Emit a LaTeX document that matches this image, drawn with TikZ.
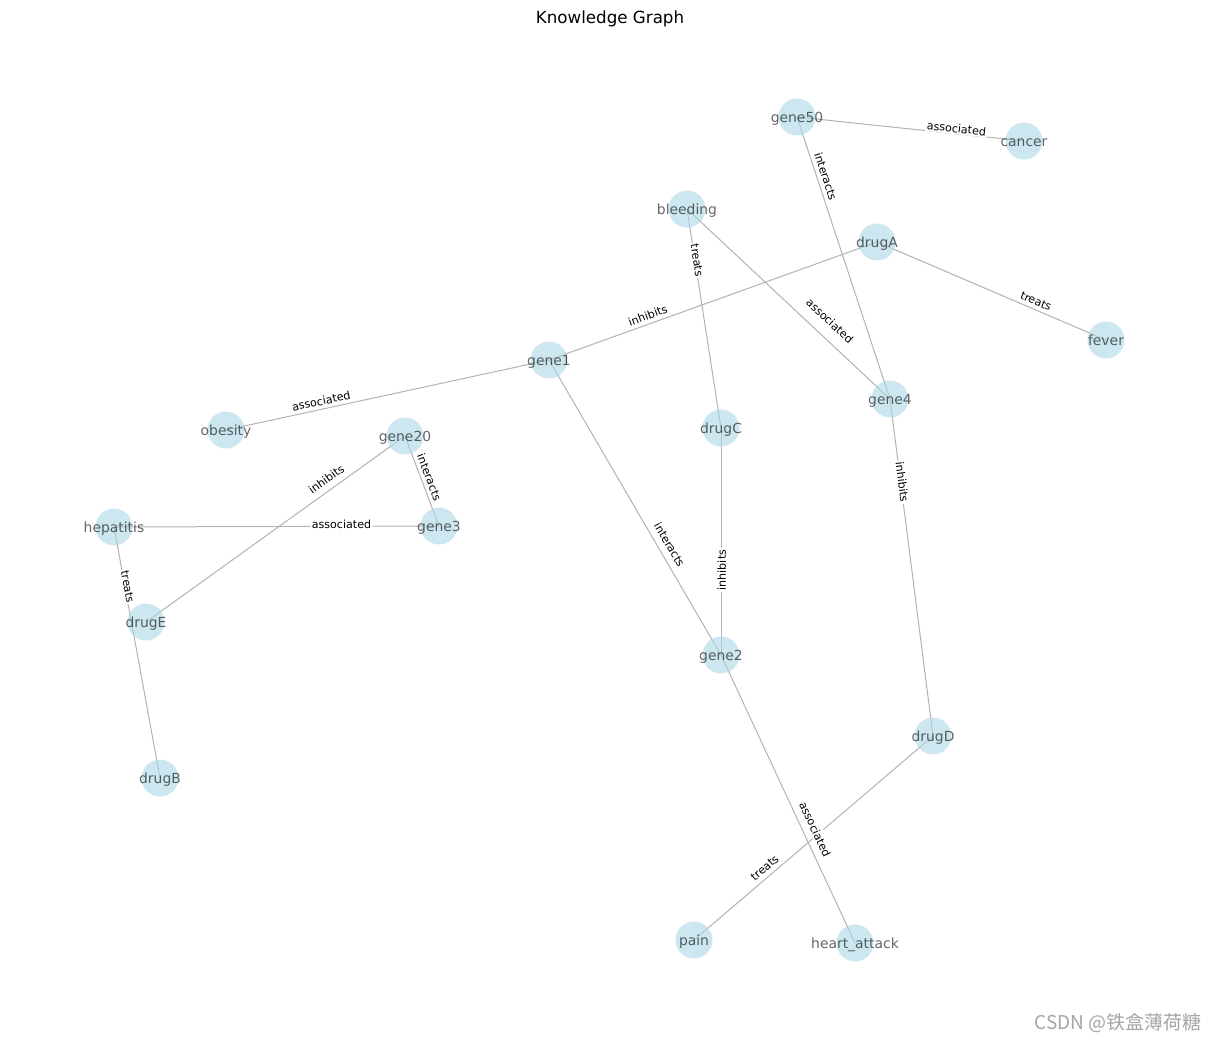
\documentclass[tikz,border=0pt]{standalone}
\usepackage{fontspec}
\setmainfont{DejaVu Sans}
\newfontfamily\cjkfont{Noto Sans CJK SC}
\usetikzlibrary{backgrounds}
\definecolor{nd}{HTML}{ADD8E6}
\definecolor{eg}{HTML}{B3B3B3}
\definecolor{wm}{HTML}{A6A6A6}
\newcommand{\px}[1]{\fontsize{#1}{#1}\selectfont}
\tikzset{
  ent/.style={circle,fill=nd,fill opacity=0.6,minimum size=37pt,inner sep=0pt,
    label={[entname]center:#1}},
  entname/.style={inner sep=0pt,text opacity=0.6,font=\px{13.9},text height=11pt,text depth=0pt},
  rel/.style={draw=eg,line width=1pt},
  rlbl/.style={fill=white,inner sep=1.5pt,sloped,font=\px{11.1},text height=9.8pt,text depth=0pt},
}

\begin{document}
\begin{tikzpicture}[x=1pt,y=-1pt]
\useasboundingbox (0,0) rectangle (1220,1040);
\node[font=\px{16.7},text height=12.6pt,text depth=0pt] (title) at (610,17) {Knowledge Graph};
% entities
\node[ent=gene50] (gene50) at (797,117) {};
\node[ent=cancer] (cancer) at (1024,141) {};
\node[ent=bleeding] (bleeding) at (687,209) {};
\node[ent=drugA] (drugA) at (877,242) {};
\node[ent=fever] (fever) at (1106,340) {};
\node[ent=gene1] (gene1) at (549,360) {};
\node[ent=gene4] (gene4) at (890,399) {};
\node[ent=obesity] (obesity) at (226,430) {};
\node[ent=gene20] (gene20) at (405,436) {};
\node[ent=drugC] (drugC) at (721,428) {};
\node[ent=hepatitis] (hepatitis) at (114,527) {};
\node[ent=gene3] (gene3) at (439,526) {};
\node[ent=drugE] (drugE) at (146,622) {};
\node[ent=gene2] (gene2) at (721,655) {};
\node[ent=drugD] (drugD) at (933,736) {};
\node[ent=drugB] (drugB) at (160,778) {};
\node[ent=pain] (pain) at (694,940) {};
\node[ent=heart\_attack] (heart) at (855,943) {};
% relations, under the entities
\begin{scope}[on background layer]
\fill[white] (0,0) rectangle (1220,1040);
\draw[rel] (gene50.center) -- node[rlbl,pos=.70,yshift=6pt] {associated} (cancer.center);
\draw[rel] (gene50.center) -- node[rlbl,pos=.22,yshift=9.5pt] {interacts} (gene4.center);
\draw[rel] (bleeding.center) -- node[rlbl,pos=.235,yshift=3pt] {treats} (drugC.center);
\draw[rel] (bleeding.center) -- node[rlbl,pos=.65,yshift=16.7pt] {associated} (gene4.center);
\draw[rel] (gene1.center) -- node[rlbl,pos=.31,yshift=9.3pt] {inhibits} (drugA.center);
\draw[rel] (drugA.center) -- node[rlbl,pos=.68,yshift=9.2pt] {treats} (fever.center);
\draw[rel] (obesity.center) -- node[rlbl,pos=.30,yshift=8.9pt] {associated} (gene1.center);
\draw[rel] (gene1.center) -- node[rlbl,pos=.645,yshift=11.9pt] {interacts} (gene2.center);
\draw[rel] (gene2.center) -- node[rlbl,pos=.374] {inhibits} (drugC.center);
\draw[rel] (gene4.center) -- node[rlbl,pos=.247,yshift=2.4pt] {inhibits} (drugD.center);
\draw[rel] (gene20.center) -- node[rlbl,pos=.49,yshift=9pt] {interacts} (gene3.center);
\draw[rel] (drugE.center) -- node[rlbl,pos=.72,yshift=11.3pt] {inhibits} (gene20.center);
\draw[rel] (hepatitis.center) -- node[rlbl,pos=.70,yshift=3pt] {associated} (gene3.center);
\draw[rel] (hepatitis.center) -- node[rlbl,pos=.24,yshift=3.7pt] {treats} (drugB.center);
\draw[rel] (pain.center) -- node[rlbl,pos=.32,yshift=9.9pt] {treats} (drugD.center);
\draw[rel] (gene2.center) -- node[rlbl,pos=.623,yshift=12.5pt] {associated} (heart.center);
\end{scope}
\node[text=wm,font=\cjkfont\px{19}] (mark) at (1118,1023) {CSDN @铁盒薄荷糖};
\end{tikzpicture}
\end{document}
